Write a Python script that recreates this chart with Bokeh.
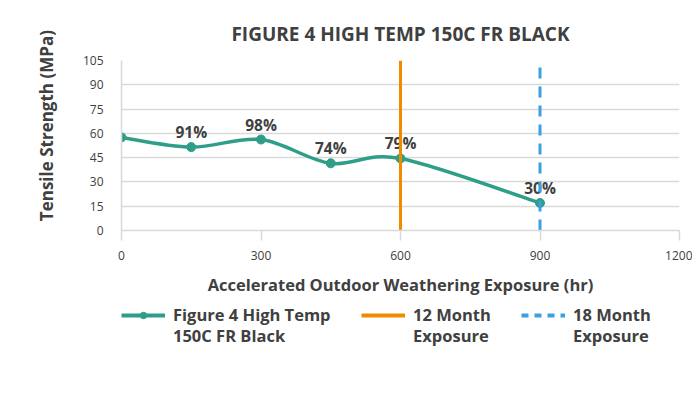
import math
from bokeh.plotting import figure
from bokeh.layouts import column
from bokeh.models import Legend, LegendItem, ColumnDataSource, FixedTicker, Range1d
from bokeh.embed import file_html
from bokeh.resources import INLINE

# ---- data ----
hours = [0, 150, 300, 450, 600, 900]
strength = [57.5, 51.5, 56.2, 41.5, 44.5, 17.0]
pct_labels = ["", "91%", "98%", "74%", "79%", "30%"]
x_ticks = [0, 300, 600, 900, 1200]
y_ticks = [0, 15, 30, 45, 60, 75, 90, 105]
month12 = 600
month18 = 900

title_text = "FIGURE 4 HIGH TEMP 150C FR BLACK"
x_title = "Accelerated Outdoor Weathering Exposure (hr)"
y_title = "Tensile Strength (MPa)"
series_lines = ["Figure 4 High Temp", "150C FR Black"]
m12_lines = ["12 Month", "Exposure"]
m18_lines = ["18 Month", "Exposure"]

GREEN = "#2f9e89"
ORANGE = "#f28a00"
BLUE = "#3d9fdd"
TXT = "#404040"
GRID = "#d9d9d9"
FONT = "Open Sans"

p = figure(width=692, height=300, output_backend="svg", toolbar_location=None,
           x_range=Range1d(0, 1200), y_range=Range1d(0, 105),
           min_border_left=121, min_border_right=13, min_border_top=60, min_border_bottom=70)
p.outline_line_color = None
p.background_fill_color = "white"
p.border_fill_color = "white"

p.title.text = title_text
p.title.align = "center"
p.title.text_font = FONT
p.title.text_font_size = "19px"
p.title.text_font_style = "bold"
p.title.text_color = TXT
p.title.standoff = 28

# axes
p.xaxis.ticker = FixedTicker(ticks=x_ticks)
p.yaxis.ticker = FixedTicker(ticks=y_ticks)
for ax in (p.xaxis[0], p.yaxis[0]):
    ax.major_label_text_font = FONT
    ax.major_label_text_font_size = "12px"
    ax.major_label_text_color = TXT
    ax.minor_tick_line_color = None
    ax.axis_line_color = GRID
    ax.axis_line_width = 1.5
    ax.axis_label_text_font = FONT
    ax.axis_label_text_font_style = "bold"
    ax.axis_label_text_color = TXT
p.xaxis.axis_label_text_font_size = "16.5px"
p.yaxis.axis_label_text_font_size = "17px"
p.xaxis.major_tick_line_color = GRID
p.xaxis.major_tick_line_width = 1.5
p.xaxis.major_tick_out = 10
p.xaxis.major_tick_in = 0
p.xaxis.major_label_standoff = 10
p.xaxis.axis_label = x_title
p.xaxis.axis_label_standoff = 10
p.yaxis.major_tick_line_color = None
p.yaxis.major_label_standoff = 12
p.yaxis.axis_label = "\u00a0" * 9 + y_title
p.yaxis.axis_label_standoff = 22

p.xgrid.grid_line_color = None
p.ygrid.grid_line_color = GRID
p.ygrid.grid_line_width = 1.5

# smooth curve (Catmull-Rom style bezier through the data points)
n = len(hours)
x0, y0, x1, y1, cx0, cy0, cx1, cy1 = [], [], [], [], [], [], [], []
for i in range(n - 1):
    pm = (hours[max(i - 1, 0)], strength[max(i - 1, 0)])
    pa = (hours[i], strength[i])
    pb = (hours[i + 1], strength[i + 1])
    pn = (hours[min(i + 2, n - 1)], strength[min(i + 2, n - 1)])
    x0.append(pa[0]); y0.append(pa[1]); x1.append(pb[0]); y1.append(pb[1])
    cx0.append(pa[0] + (pb[0] - pm[0]) / 6); cy0.append(pa[1] + (pb[1] - pm[1]) / 6)
    cx1.append(pb[0] - (pn[0] - pa[0]) / 6); cy1.append(pb[1] - (pn[1] - pa[1]) / 6)
p.bezier(x0=x0, y0=y0, x1=x1, y1=y1, cx0=cx0, cy0=cy0, cx1=cx1, cy1=cy1,
         line_color=GREEN, line_width=3.5)

src = ColumnDataSource(dict(x=hours, y=strength, t=pct_labels))
p.scatter("x", "y", source=src, size=9, fill_color=GREEN, line_color=GREEN)
p.text("x", "y", text="t", source=src, text_align="center", text_baseline="middle",
       y_offset=-15, text_font_size="15.5px", text_font_style="bold", text_color=TXT,
       text_font={"value": FONT})

# vertical exposure markers
p.segment(x0=[month12], y0=[0], x1=[month12], y1=[105], line_color=ORANGE, line_width=3)
p.segment(x0=[month18], y0=[0], x1=[month18], y1=[105], line_color=BLUE, line_width=3,
          line_dash="11 8")

# ---- legend strip (separate figure below) ----
q = figure(width=692, height=98, output_backend="svg", toolbar_location=None,
           x_range=Range1d(0, 1), y_range=Range1d(0, 1),
           min_border=0, min_border_left=121, min_border_right=13, min_border_top=0,
           min_border_bottom=0)
q.axis.visible = False
q.grid.grid_line_color = None
q.outline_line_color = None
q.background_fill_color = "white"
q.border_fill_color = "white"

lg_line = q.line([0, 0], [-10, -10], line_color=GREEN, line_width=4)
lg_pt = q.scatter([0], [-10], size=8, fill_color=GREEN, line_color=GREEN)
lg12 = q.line([0, 0], [-10, -10], line_color=ORANGE, line_width=4)
lg18 = q.line([0, 0], [-10, -10], line_color=BLUE, line_width=4, line_dash="7 6")
lg_blank = q.line([0, 0], [-10, -10], line_alpha=0)

def add_entry(text, renderers, loc):
    lg = Legend(items=[LegendItem(label=text, renderers=renderers)],
                orientation="horizontal", location=loc,
                glyph_width=44, glyph_height=16, label_standoff=8, spacing=0,
                padding=0, margin=0, border_line_color=None, background_fill_alpha=0,
                label_text_font=FONT, label_text_font_size="16.5px",
                label_text_font_style="bold", label_text_color=TXT)
    q.add_layout(lg, "center")

entries = [(series_lines, [lg_line, lg_pt], 0),
           (m12_lines, [lg12], 240),
           (m18_lines, [lg18], 400)]
for lines, rends, lx in entries:
    add_entry(lines[0], rends, (lx, 72))
    add_entry(lines[1], [lg_blank], (lx, 51))

layout = column(p, q, spacing=0)
open("out.html", "w").write(file_html(layout, INLINE))
